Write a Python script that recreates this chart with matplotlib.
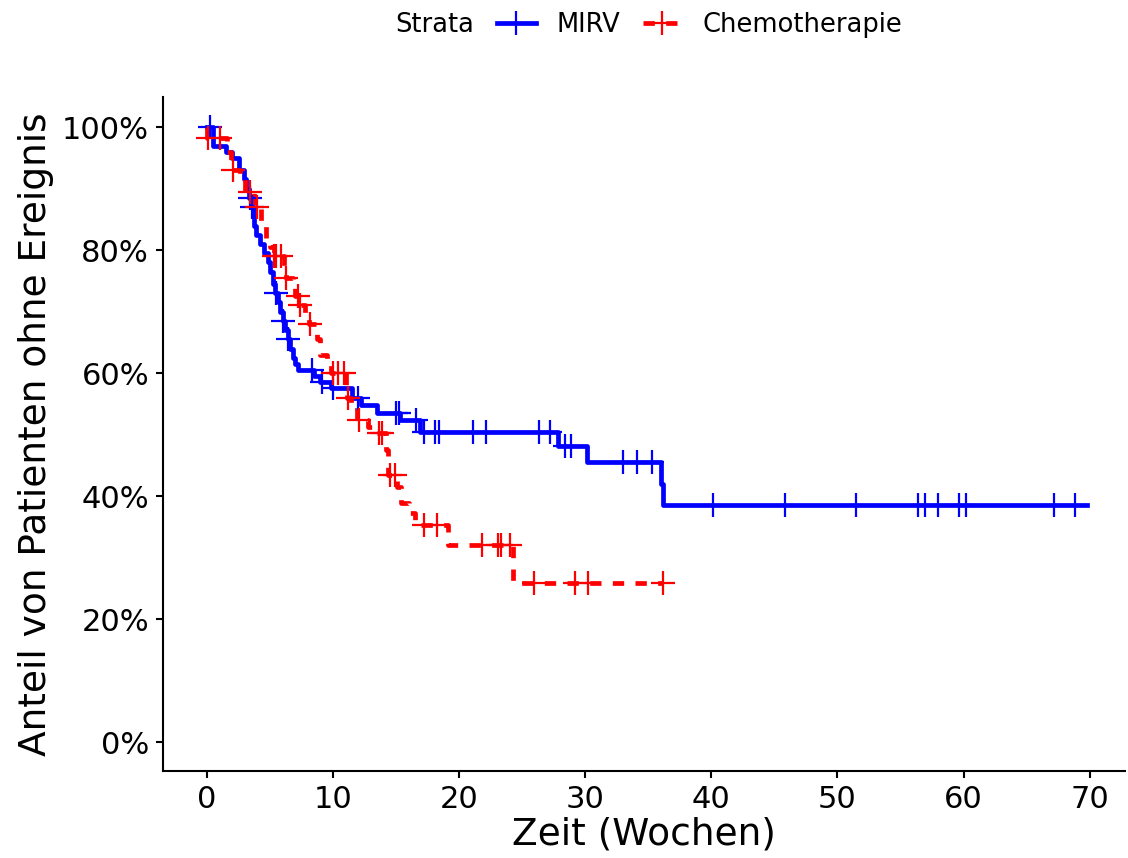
import numpy as np
import matplotlib
matplotlib.use("Agg")
import matplotlib.pyplot as plt
from matplotlib.lines import Line2D

# Kaplan-Meier steps (weeks, % without event)
mirv_t = [0, 0.5, 1.5, 2.0, 2.5, 2.9, 3.1, 3.3, 3.5, 3.7, 3.9, 4.2, 4.5, 4.8, 5.0,
          5.2, 5.4, 5.6, 5.8, 6.0, 6.2, 6.4, 6.6, 6.8, 7.0, 7.2, 8.5, 9.0, 9.8,
          11.5, 12.2, 13.5, 15.3, 16.9, 27.8, 30.1, 36.0, 36.2]
mirv_s = [100, 97.0, 96.0, 95.0, 93.0, 91.5, 90.0, 88.5, 87.0, 84.0, 82.5, 81.0,
          79.5, 78.0, 76.5, 74.5, 73.0, 71.5, 70.0, 68.5, 67.0, 65.5, 64.0, 62.5,
          61.5, 60.5, 59.5, 58.5, 57.5, 56.0, 54.8, 53.5, 52.3, 50.4, 48.2, 45.6,
          42.0, 38.6]
mirv_end = 69.8
mirv_cens = [0.2, 3.4, 3.6, 5.5, 6.0, 6.45, 8.3, 9.1, 10.0, 12.0, 15.0, 15.2, 16.6,
             17.2, 18.1, 18.4, 21.1, 22.1, 26.3, 27.2, 28.4, 28.9, 33.0, 34.1, 35.3,
             40.1, 45.8, 51.5, 56.4, 56.9, 58.0, 59.6, 60.2, 67.2, 68.8]

chemo_t = [0, 0.02, 1.6, 1.9, 2.6, 3.0, 3.7, 4.3, 4.7, 5.0, 5.3, 6.1, 6.3, 6.8, 7.0,
           7.3, 7.8, 8.1, 8.7, 9.0, 9.5, 9.8, 11.0, 11.1, 11.4, 11.9, 12.8, 13.2,
           14.2, 14.35, 15.1, 15.4, 16.0, 16.5, 19.1, 24.3]
chemo_s = [100, 98.3, 96.0, 93.0, 91.5, 89.5, 87.0, 84.0, 82.0, 80.5, 79.0, 77.0,
           75.5, 74.0, 72.5, 71.0, 69.5, 68.0, 65.5, 63.0, 61.5, 60.0, 57.5, 56.0,
           54.5, 52.4, 51.3, 50.2, 47.5, 43.4, 41.5, 38.9, 37.2, 35.3, 32.0, 25.8]
chemo_end = 36.2
chemo_cens = [0.1, 1.0, 2.1, 3.4, 4.0, 5.3, 5.5, 5.9, 6.3, 7.2, 7.4, 8.2, 10.0, 10.4,
              10.9, 11.2, 12.05, 13.6, 13.9, 14.5, 14.9, 17.2, 18.2, 21.8, 23.1, 23.35,
              24.0, 25.9, 29.2, 30.2, 36.2]

x_ticks = [0, 10, 20, 30, 40, 50, 60, 70]
y_ticks = [0, 20, 40, 60, 80, 100]

BLUE = "#0000ff"
RED = "#ff0000"
LW = 3.4
MS = 17
MEW = 1.6
DASH = (0, (2.4, 2.4))


def level_at(t, s, when):
    t = np.asarray(t)
    s = np.asarray(s)
    idx = np.searchsorted(t, when, side="right") - 1
    return s[idx]


fig = plt.figure(figsize=(11.28, 8.58), dpi=100)
ax = fig.add_axes([163 / 1128, 1 - 771 / 858, (1125 - 163) / 1128, (771 - 97) / 858])

# step curves
ax.step(mirv_t + [mirv_end], mirv_s + [mirv_s[-1]], where="post",
        color=BLUE, lw=LW, solid_joinstyle="round")
ax.step(chemo_t + [chemo_end], chemo_s + [chemo_s[-1]], where="post",
        color=RED, lw=LW, linestyle=DASH)

# censoring marks
ax.plot(mirv_cens, level_at(mirv_t, mirv_s, mirv_cens), "+", color=BLUE,
        ms=MS, mew=MEW)
ax.plot(chemo_cens, level_at(chemo_t, chemo_s, chemo_cens), "+", color=RED,
        ms=MS, mew=MEW)

ax.set_xlim(-3.49, 72.8)
ax.set_ylim(-4.7, 104.9)
ax.set_xticks(x_ticks)
ax.set_yticks(y_ticks)
ax.set_yticklabels([f"{v}%" for v in y_ticks])

for side in ["top", "right"]:
    ax.spines[side].set_visible(False)
for side in ["left", "bottom"]:
    ax.spines[side].set_linewidth(1.5)
ax.tick_params(axis="both", length=5, width=1.5, labelsize=22, pad=5,
               colors="black")

ax.set_xlabel("Zeit (Wochen)", fontsize=27, labelpad=2)
ax.set_ylabel("Anteil von Patienten ohne Ereignis", fontsize=27, labelpad=6)

# legend on top
handles = [
    Line2D([], [], color=BLUE, lw=LW, marker="+", ms=MS, mew=MEW),
    Line2D([], [], color=RED, lw=LW, linestyle=DASH, marker="+", ms=MS, mew=MEW),
]
fig.text(395 / 1128, 1 - 25 / 858, "Strata", fontsize=18.5, va="center", ha="left")
fig.legend(handles, ["MIRV", "Chemotherapie"], loc="center left",
           bbox_to_anchor=(497 / 1128, 1 - 25 / 858), bbox_transform=fig.transFigure,
           ncol=2, frameon=False, fontsize=18.5, borderpad=0, borderaxespad=0,
           handlelength=1.5, handletextpad=0.8, columnspacing=0.9, numpoints=1)

fig.savefig("out.png", dpi=100)
